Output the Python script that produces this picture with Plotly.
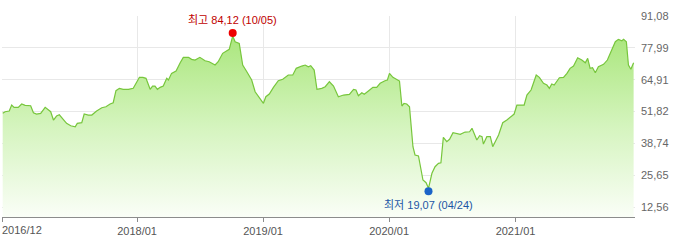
import plotly.graph_objects as go

dates = [
    "2016-12-08", "2016-12-15", "2016-12-27", "2017-01-03", "2017-01-10", "2017-01-22", "2017-02-01",
    "2017-02-11", "2017-02-27", "2017-03-07", "2017-03-16", "2017-03-28", "2017-04-10", "2017-04-19",
    "2017-04-26", "2017-05-04", "2017-05-13", "2017-05-21", "2017-06-02", "2017-06-11", "2017-06-23",
    "2017-07-03", "2017-07-06", "2017-07-12", "2017-07-25", "2017-08-01", "2017-08-13", "2017-08-23",
    "2017-09-06", "2017-09-21", "2017-10-03", "2017-10-15", "2017-10-24", "2017-11-01", "2017-11-11",
    "2017-11-22", "2017-12-07", "2017-12-21", "2017-12-31", "2018-01-08", "2018-01-18", "2018-01-27",
    "2018-02-08", "2018-02-15", "2018-02-22", "2018-03-01", "2018-03-09", "2018-03-18", "2018-03-28",
    "2018-04-02", "2018-04-11", "2018-04-24", "2018-05-06", "2018-05-15", "2018-05-30", "2018-06-08",
    "2018-06-18", "2018-07-02", "2018-07-17", "2018-07-29", "2018-08-15", "2018-08-24", "2018-09-06",
    "2018-09-25", "2018-10-05", "2018-10-12", "2018-10-24", "2018-11-03", "2018-11-15", "2018-11-29",
    "2018-12-09", "2018-12-21", "2019-01-02", "2019-01-09", "2019-01-19", "2019-01-31", "2019-02-14",
    "2019-02-27", "2019-03-15", "2019-03-28", "2019-04-07", "2019-04-23", "2019-05-03", "2019-05-12",
    "2019-05-19", "2019-05-29", "2019-06-06", "2019-06-20", "2019-06-30", "2019-07-12", "2019-07-24",
    "2019-08-07", "2019-08-22", "2019-09-08", "2019-09-20", "2019-09-27", "2019-10-04", "2019-10-14",
    "2019-10-21", "2019-11-02", "2019-11-15", "2019-11-26", "2019-12-06", "2019-12-20", "2019-12-27",
    "2020-01-02", "2020-01-12", "2020-01-31", "2020-02-07", "2020-02-13", "2020-02-21", "2020-02-29",
    "2020-03-10", "2020-03-16", "2020-03-26", "2020-04-08", "2020-04-17", "2020-04-24", "2020-05-04",
    "2020-05-13", "2020-05-23", "2020-05-30", "2020-06-06", "2020-06-16", "2020-06-24", "2020-07-04",
    "2020-07-15", "2020-07-25", "2020-08-08", "2020-08-21", "2020-08-28", "2020-09-03", "2020-09-11",
    "2020-09-19", "2020-09-26", "2020-09-30", "2020-10-10", "2020-10-20", "2020-10-27", "2020-11-13",
    "2020-11-25", "2020-12-07", "2020-12-17", "2020-12-28", "2021-01-05", "2021-01-15", "2021-01-26",
    "2021-02-03", "2021-02-15", "2021-02-20", "2021-03-02", "2021-03-11", "2021-03-23", "2021-04-02",
    "2021-04-09", "2021-04-16", "2021-04-23", "2021-05-08", "2021-05-20", "2021-05-30", "2021-06-08",
    "2021-06-18", "2021-06-30", "2021-07-12", "2021-07-22", "2021-07-29", "2021-08-05", "2021-08-12",
    "2021-08-20", "2021-08-29", "2021-09-13", "2021-09-24", "2021-10-04", "2021-10-17", "2021-10-26",
    "2021-11-05", "2021-11-10", "2021-11-18", "2021-11-24", "2021-12-01", "2021-12-09",
]

values = [
    51.08, 51.74, 52.03, 54.49, 53.55, 53.55, 54.90,
    54.37, 54.20, 51.33, 50.79, 51.08, 53.55, 52.72,
    51.74, 48.33, 49.97, 50.50, 48.33, 46.97, 45.98,
    45.86, 45.57, 46.97, 47.22, 50.79, 50.38, 50.38,
    52.03, 53.38, 53.79, 54.90, 55.44, 60.37, 61.36,
    60.95, 60.95, 61.36, 64.07, 65.88, 65.88, 65.47,
    60.95, 62.30, 62.30, 60.95, 61.77, 62.30, 65.47,
    64.77, 67.52, 68.47, 71.88, 74.10, 74.10, 73.28,
    72.99, 74.10, 72.70, 72.29, 70.94, 72.29, 75.75,
    77.39, 82.86, 80.51, 79.86, 70.94, 68.18, 64.77,
    59.96, 57.66, 55.19, 57.90, 59.01, 61.77, 64.48,
    65.06, 66.83, 66.83, 69.58, 70.52, 70.94, 70.24,
    70.65, 68.88, 60.95, 61.36, 62.01, 64.07, 62.30,
    57.90, 58.60, 58.89, 60.95, 60.66, 58.32, 59.55,
    58.89, 60.25, 61.77, 61.77, 63.41, 64.48, 64.77,
    67.52, 65.88, 64.36, 54.08, 55.19, 54.90, 53.79,
    37.35, 33.94, 33.53, 23.66, 22.55, 20.25, 26.41,
    29.13, 30.52, 30.77, 41.21, 39.40, 40.39, 43.10,
    42.86, 42.45, 43.39, 43.51, 44.91, 42.86, 40.10,
    41.87, 41.46, 38.46, 41.46, 41.46, 37.35, 42.16,
    47.22, 48.33, 49.68, 50.79, 54.49, 54.49, 54.49,
    58.60, 60.66, 62.71, 66.83, 65.88, 63.41, 62.71,
    61.36, 63.13, 62.71, 65.72, 65.88, 67.52, 69.58,
    70.52, 73.94, 72.99, 71.88, 73.69, 69.58, 69.83,
    67.77, 70.24, 71.22, 72.99, 76.40, 80.51, 81.50,
    80.93, 81.50, 80.51, 70.94, 69.17, 71.88,
]

y_ticks = [12.56, 25.65, 38.74, 51.82, 64.91, 77.99, 91.08]
y_tick_labels = ["12,56", "25,65", "38,74", "51,82", "64,91", "77,99", "91,08"]
x_ticks = ["2016-12-08", "2018-01-01", "2019-01-01", "2020-01-01", "2021-01-01"]
x_tick_labels = ["", "2018/01", "2019/01", "2020/01", "2021/01"]
first_tick_label = "2016/12"

high_date, high_value, high_text = "2018-10-05", 84.12, "최고 84,12 (10/05)"
low_date, low_value, low_text = "2020-04-24", 19.07, "최저 19,07 (04/24)"

x_range = ["2016-12-06", "2021-12-13"]
y_range = [8.45, 91.1]

font_family = "Liberation Sans, Arial, Noto Sans CJK KR"

fig = go.Figure()
fig.add_trace(go.Scatter(
    x=dates, y=values, mode="lines",
    line=dict(color="#77c63c", width=1.2),
    fill="tozeroy",
    fillgradient=dict(type="vertical",
                      colorscale=[[0, "#fafef7"], [0.5, "#d4f4bd"], [1, "#a9e67b"]],
                      start=y_range[0], stop=84),
    hoverinfo="skip",
))
fig.add_trace(go.Scatter(
    x=[high_date], y=[high_value], mode="markers",
    marker=dict(color="#ee0000", size=8), hoverinfo="skip",
))
fig.add_trace(go.Scatter(
    x=[low_date], y=[low_value], mode="markers",
    marker=dict(color="#1a64c8", size=8), hoverinfo="skip",
))

fig.add_annotation(x=high_date, y=high_value, text=high_text, showarrow=False,
                   yanchor="bottom", yshift=5,
                   font=dict(family=font_family, size=11, color="#c00000"))
fig.add_annotation(x=low_date, y=low_value, text=low_text, showarrow=False,
                   yanchor="top", yshift=-6,
                   font=dict(family=font_family, size=11, color="#1c57a5"))
fig.add_annotation(x=x_ticks[0], xref="x", y=0, yref="paper", text=first_tick_label,
                   showarrow=False, xanchor="left", yanchor="top", xshift=-3, yshift=-5,
                   font=dict(family=font_family, size=11, color="#555555"))

fig.update_layout(
    width=700, height=243,
    margin=dict(l=2, r=65, t=16, b=26),
    paper_bgcolor="white", plot_bgcolor="white",
    showlegend=False,
    hovermode=False,
    font=dict(family=font_family, size=11, color="#555555"),
    xaxis=dict(
        type="date", range=x_range,
        tickvals=x_ticks, ticktext=x_tick_labels,
        showgrid=True, gridcolor="#e8e8e8", gridwidth=1,
        showline=True, linecolor="#8c8c8c", linewidth=1,
        ticks="outside", ticklen=4, tickcolor="#8c8c8c",
        tickfont=dict(family=font_family, size=11, color="#555555"),
        zeroline=False, fixedrange=True,
    ),
    yaxis=dict(
        range=y_range, side="right",
        tickvals=y_ticks, ticktext=y_tick_labels,
        showgrid=True, gridcolor="#e8e8e8", gridwidth=1,
        showline=False, ticks="", ticklabelstandoff=5,
        tickfont=dict(family=font_family, size=11, color="#666666"),
        zeroline=False, fixedrange=True,
    ),
)

fig.write_html("out.html")
